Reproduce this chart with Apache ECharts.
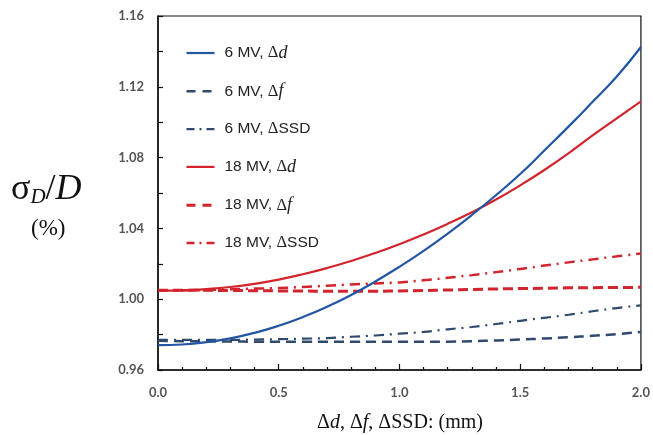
<!DOCTYPE html>
<html><head><meta charset="utf-8">
<script src="https://cdn.jsdelivr.net/npm/echarts@6/dist/echarts.min.js"></script>
<style>html,body{margin:0;padding:0;background:#fff}#c{width:653px;height:435px}</style>
</head><body><div id="c"></div>
<script>
var xValues = [0,0.1,0.2,0.3,0.4,0.5,0.6,0.7,0.8,0.9,1.0,1.1,1.2,1.3,1.4,1.5,1.6,1.7,1.8,1.9,2.0];
var mv6_d   = [0.974,0.9744,0.9757,0.9779,0.981,0.985,0.9899,0.9957,1.0024,1.01,1.0183,1.0273,1.0371,1.0476,1.0588,1.0707,1.084,1.0975,1.1115,1.1258,1.1425];
var mv6_f   = [0.9765,0.9763,0.9762,0.9761,0.976,0.976,0.976,0.976,0.976,0.976,0.976,0.976,0.976,0.9763,0.9767,0.9772,0.9778,0.9785,0.9793,0.9803,0.9815];
var mv6_ssd = [0.977,0.977,0.977,0.977,0.9772,0.9774,0.9777,0.978,0.9788,0.9795,0.9805,0.9815,0.983,0.9843,0.986,0.9878,0.9895,0.9912,0.9932,0.995,0.9965];
var mv18_d  = [1.0048,1.005,1.0057,1.0069,1.0087,1.0111,1.0141,1.0176,1.0216,1.0261,1.0311,1.0366,1.0426,1.0491,1.0563,1.0643,1.073,1.0824,1.0925,1.1022,1.1118];
var mv18_f  = [1.005,1.005,1.005,1.0049,1.0048,1.0047,1.0046,1.0045,1.0045,1.0045,1.0047,1.0049,1.0052,1.0055,1.0058,1.006,1.0062,1.0064,1.0065,1.0066,1.0067];
var mv18_ssd= [1.005,1.005,1.0052,1.0056,1.006,1.0063,1.0069,1.0076,1.0083,1.0089,1.0095,1.0107,1.0121,1.0136,1.0153,1.0171,1.019,1.0208,1.0225,1.0242,1.0258];
var xTicks = ['0.0','0.5','1.0','1.5','2.0'];
var yTicks = ['0.96','1.00','1.04','1.08','1.12','1.16'];
var names = ['6 MV, {g|Δ}{i|d}','6 MV, {g|Δ}{i|f}','6 MV, {g|Δ}SSD','18 MV, {g|Δ}{i|d}','18 MV, {g|Δ}{i|f}','18 MV, {g|Δ}SSD'];

function zip(ys){ return xValues.map(function(x,i){ return [x, ys[i]]; }); }
var BLUE = '#2255a4', NAVY = '#2f4a6c', RED = '#d3232c';
var styles = [
  {color: BLUE, width: 2.2, type: 'solid', legendType: 'solid'},
  {color: NAVY, width: 2.5, type: [10, 6], legendType: [9, 7]},
  {color: NAVY, width: 2.2, type: [10, 6, 2, 6], legendType: [8, 5, 2, 5]},
  {color: RED, width: 2.2, type: 'solid', legendType: 'solid'},
  {color: RED, width: 3, type: [10, 5], legendType: [9, 7]},
  {color: RED, width: 2.5, type: [10, 6, 2, 6], legendType: [8, 5, 2, 5]}
];
var dataSets = [mv6_d, mv6_f, mv6_ssd, mv18_d, mv18_f, mv18_ssd];
var series = dataSets.map(function(d, i){
  return {
    name: names[i], type: 'line', data: zip(d), smooth: true, symbol: 'none',
    lineStyle: {color: styles[i].color, width: styles[i].width, type: styles[i].type},
    itemStyle: {color: styles[i].color}, z: 10 - i
  };
});
var legendData = names.map(function(n, i){
  return {name: n, itemStyle: {opacity: 0},
    lineStyle: {color: styles[i].color, width: styles[i].width, type: styles[i].legendType}};
});
var chart = echarts.init(document.getElementById('c'), null, {renderer: 'canvas'});
chart.setOption({
  animation: false,
  grid: {left: 158, right: 12, top: 16, bottom: 65, show: true, borderColor: '#111', borderWidth: 1.2, containLabel: false},
  legend: {
    orient: 'vertical', left: 185, top: 44, padding: 0, itemWidth: 28, itemHeight: 14, itemGap: 20.3,
    data: legendData, itemStyle: {opacity: 0},
    textStyle: {fontFamily: 'Liberation Sans, Arial', fontSize: 15.5, color: '#222', padding: [0, 0, 0, 5],
      rich: {g: {fontFamily: 'Liberation Serif', fontSize: 16.5, color: '#222'}, i: {fontFamily: 'Liberation Serif', fontStyle: 'italic', fontSize: 18, color: '#222'}}}
  },
  xAxis: {
    type: 'value', min: 0, max: 2, interval: 0.5,
    axisLine: {lineStyle: {color: '#111', width: 1.5}},
    axisTick: {inside: true, length: 6, lineStyle: {color: '#111', width: 1.2}},
    minorTick: {show: true, splitNumber: 5, length: 3, lineStyle: {color: '#111', width: 1.2}},
    splitLine: {show: false},
    axisLabel: {margin: 16, fontFamily: 'Lato', fontWeight: 'bold', fontSize: 13, color: '#555',
      formatter: function(v){ return xTicks[Math.round(v*2)]; }}
  },
  yAxis: {
    type: 'value', min: 0.96, max: 1.16, interval: 0.04,
    axisLine: {lineStyle: {color: '#111', width: 1.5}},
    axisTick: {inside: true, length: 5, lineStyle: {color: '#111', width: 1.2}},
    minorTick: {show: true, splitNumber: 2, length: 5, lineStyle: {color: '#111', width: 1.2}},
    splitLine: {show: false},
    axisLabel: {margin: 14, fontFamily: 'Lato', fontWeight: 'bold', fontSize: 13, color: '#555',
      formatter: function(v){ return yTicks[Math.round((v-0.96)/0.04)]; }}
  },
  graphic: [
    {type: 'text', left: 11, top: 172, style: {
      text: '{s|σ}{sub|D}{d|/}{i|D}', rich: {
        s: {fontFamily: 'Liberation Serif', fontSize: 36, fill: '#111'},
        sub: {fontFamily: 'Liberation Serif', fontStyle: 'italic', fontSize: 21, fill: '#111', verticalAlign: 'bottom', padding: [15,0,0,0]},
        d: {fontFamily: 'Liberation Serif', fontSize: 36, fill: '#111'},
        i: {fontFamily: 'Liberation Serif', fontStyle: 'italic', fontSize: 36, fill: '#111'}
      }}},
    {type: 'text', left: 31, top: 217, style: {text: '(%)', font: '23px "Liberation Serif"', fill: '#111'}},
    {type: 'text', x: 400, y: 423, style: {
      text: '{g|Δ}{i|d}, {g|Δ}{i|f}, {g|Δ}SSD: (mm)', font: '20px "Liberation Serif"', fill: '#111', align: 'center', verticalAlign: 'middle',
      rich: {g: {fontFamily: 'Liberation Serif', fontSize: 20, fill: '#111'}, i: {fontFamily: 'Liberation Serif', fontStyle: 'italic', fontSize: 20, fill: '#111'}}}}
  ],
  series: series
});
</script></body></html>
